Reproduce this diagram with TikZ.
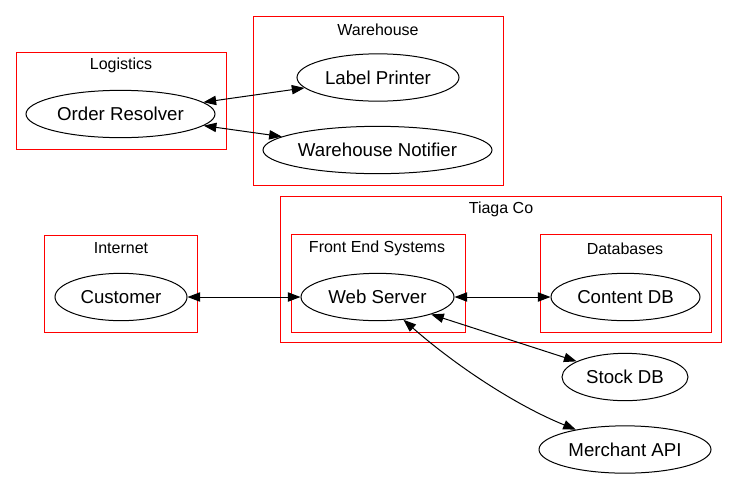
\documentclass[tikz,border=0pt]{standalone}
\usepackage{fontspec}
\setmainfont{Liberation Sans}
\usetikzlibrary{positioning}
\usetikzlibrary{arrows.meta,shapes.geometric}

\tikzset{
  proc/.style={ellipse, draw, line width=0.75pt, inner sep=0pt, minimum height=35.5pt, font=\fontsize{14}{16}\selectfont},
  cluster/.style={draw=red, line width=0.75pt},
  clabel/.style={font=\fontsize{12}{14}\selectfont},
  link/.style={line width=0.75pt, {Triangle[length=9.5pt,width=7pt]}-{Triangle[length=9.5pt,width=7pt]}}
}

\begin{document}
\begin{tikzpicture}[x=0.75pt,y=-0.75pt]
\useasboundingbox (0,0) rectangle (737,479);

% clusters
\draw[cluster] (16,52) rectangle (226,149);
\node[clabel] (logl) at (121,65.5) {Logistics};
\draw[cluster] (253,16) rectangle (503,185);
\node[clabel] (wareh) at (378,29.5) {Warehouse};
\draw[cluster] (44,235) rectangle (197,332);
\node[clabel] (netl) at (121,248.5) {Internet};
\draw[cluster] (280,196) rectangle (721,342);
\node[clabel] (tiaga) at (501,209.5) {Tiaga Co};
\draw[cluster] (291,234) rectangle (465,332);
\node[clabel] (fesl) at (377,248.5) {Front End Systems};
\draw[cluster] (540,234) rectangle (711,332);
\node[clabel] (dbl) at (625,248.5) {Databases};

% nodes
\node[proc, minimum width=141.75pt] (resolver) at (120.5,114) {Order Resolver};
\node[proc, minimum width=121.5pt] (printer) at (378,77.5) {Label Printer};
\node[proc, minimum width=171.75pt] (notifier) at (377.5,150) {Warehouse Notifier};
\node[proc, minimum width=99pt] (customer) at (121,297) {Customer};
\node[proc, minimum width=114.75pt] (web) at (377.5,297) {Web Server};
\node[proc, minimum width=111.75pt] (content) at (625.5,297) {Content DB};
\node[proc, minimum width=94.5pt] (stock) at (625,377) {Stock DB};
\node[proc, minimum width=129pt] (merchant) at (625,449.5) {Merchant API};

% edges
\draw[link] (resolver) -- (printer);
\draw[link] (resolver) -- (notifier);
\draw[link] (customer) -- (web);
\draw[link] (web) -- (content);
\draw[link] (web) -- (stock);
\draw[link] (web) .. controls (455,365) and (515,405) .. (merchant);

\end{tikzpicture}
\end{document}
